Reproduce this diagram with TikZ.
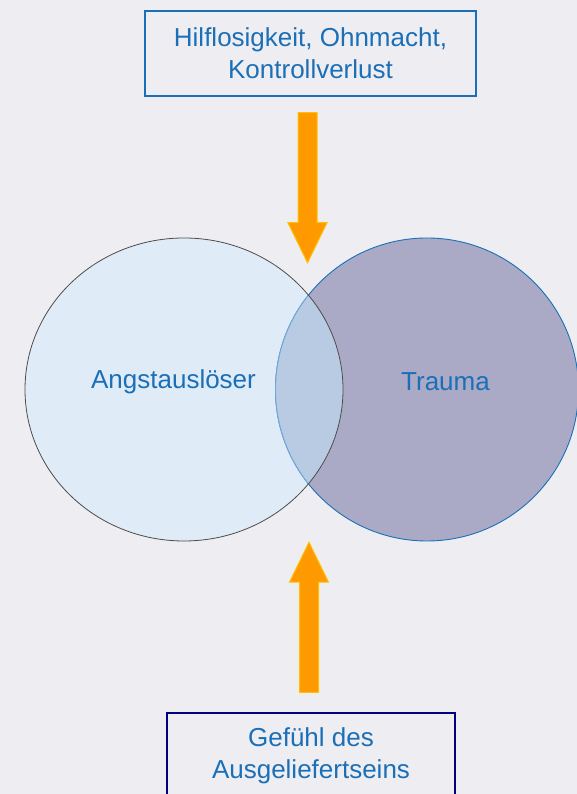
\documentclass[tikz,border=0pt]{standalone}
\usepackage{fontspec}
\setmainfont{Liberation Sans}
\usepackage{tikz}
\usetikzlibrary{shapes, shapes.geometric, shapes.arrows, positioning, calc}
\definecolor{bgGray}{HTML}{EEEEF2}
\definecolor{txtBlue}{HTML}{1B6FB7}
\definecolor{boxNavy}{HTML}{000080}
\definecolor{angstFill}{HTML}{DFEBF6}
\definecolor{traumaFill}{HTML}{AAAAC7}
\definecolor{lensFill}{HTML}{B8CBE2}
\definecolor{lensLine}{HTML}{6FA8DC}
\definecolor{arrowFill}{HTML}{FF9900}
\definecolor{arrowLine}{HTML}{FFC000}
\tikzset{
    label/.style = {text=txtBlue, font=\fontsize{26}{32}\selectfont, align=center},
    topbox/.style = {rectangle, draw=txtBlue, line width=1.2pt, minimum width=331pt, minimum height=85pt},
    bottombox/.style = {rectangle, draw=boxNavy, line width=1.2pt, minimum width=288pt, minimum height=100pt},
    bigarrow/.style = {single arrow, draw=arrowLine, fill=arrowFill, line width=1pt, minimum height=150pt, single arrow head extend=10pt, single arrow head indent=0pt, single arrow tip angle=52, inner sep=9pt}
}

\begin{document}
\begin{tikzpicture}[x=1pt, y=1pt]
        % Background
        \fill [bgGray] (0,0) rectangle (577,794);
        \useasboundingbox (0,0) rectangle (577,794);
        
        % Circles
        \coordinate (angst) at (184,404.5);
        \coordinate (trauma) at (427,404.5);
        \fill [angstFill] (angst) ellipse [x radius=159, y radius=151.5];
        \draw [fill=traumaFill, draw=txtBlue, line width=0.9pt] (trauma) ellipse [x radius=151.5, y radius=151.5];
        
        % Overlap
        \begin{scope}
            \clip (angst) ellipse [x radius=159, y radius=151.5];
            \draw [fill=lensFill, draw=lensLine, line width=0.9pt] (trauma) ellipse [x radius=151.5, y radius=151.5];
        \end{scope}
        \draw [black!70, line width=0.8pt] (angst) ellipse [x radius=159, y radius=151.5];
        
        % Circle labels
        \node [label] (angstlabel) at (173.5,412) {Angstauslöser};
        \node [label] (traumalabel) at (445.5,412) {Trauma};
        
        % Top box
        \node [topbox, label] (hilf) at (310.5,740.5) {Hilflosigkeit, Ohnmacht,\\Kontrollverlust};
        
        % Bottom box
        \node [bottombox] (gefuehl) at (311,31) {};
        \node [label, anchor=north] (gefuehltext) at ([yshift=-12pt]gefuehl.north) {Gefühl des\\Ausgeliefertseins};
        
        % Arrows
        \node [bigarrow, rotate=-90] (downarrow) at (307.5,616) {};
        \node [bigarrow, rotate=90] (uparrow) at (309,167) {};
        
    \end{tikzpicture}
\end{document}
